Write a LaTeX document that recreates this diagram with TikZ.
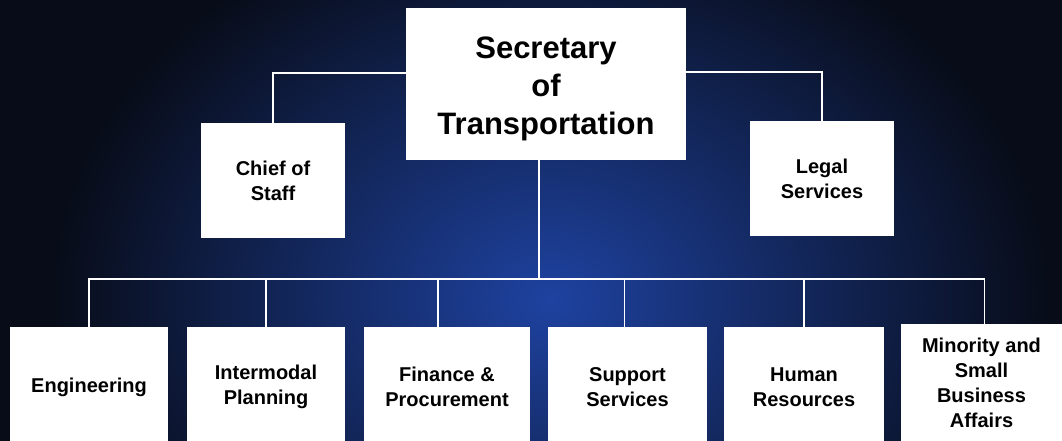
\documentclass[tikz,border=0pt]{standalone}
\usepackage{fontspec}
\setmainfont{Liberation Sans}
\definecolor{bgdark}{RGB}{8,12,24}
\definecolor{bgblue}{RGB}{30,66,160}
\begin{document}
\begin{tikzpicture}[x=1pt,y=-1pt,
  box/.style={fill=white, draw=none, align=center, inner sep=0pt,
    font=\bfseries\fontsize{20}{25}\selectfont},
  bigbox/.style={box, font=\bfseries\fontsize{31}{38}\selectfont},
  link/.style={draw=white, line width=1.8pt}]
\useasboundingbox (0,0) rectangle (1062,441);
\fill[bgdark] (0,0) rectangle (1062,441);
\begin{scope}
  \clip (0,0) rectangle (1062,441);
  \shade[inner color=bgblue, outer color=bgdark] (550,300) ellipse [x radius=500, y radius=400];
\end{scope}
% top level
\node[bigbox, minimum width=280, minimum height=152] (sec) at (546,84)
  {\raisebox{-5pt}[\height][\depth]{\begin{tabular}{@{}c@{}}Secretary\\of\\Transportation\end{tabular}}};
\node[box, minimum width=144, minimum height=115] (chief) at (273,180.5) {Chief of\\Staff};
\node[box, minimum width=144, minimum height=115] (legal) at (822,178.5) {Legal\\Services};
% bottom level
\node[box, minimum width=158, minimum height=120] (eng) at (89,387) {Engineering};
\node[box, minimum width=158, minimum height=120] (inter) at (266,387) {Intermodal\\Planning};
\node[box, minimum width=166, minimum height=120] (fin) at (447,387) {Finance \&\\Procurement};
\node[box, minimum width=159, minimum height=120] (sup) at (627.5,387) {Support\\Services};
\node[box, minimum width=160, minimum height=120] (hum) at (804,387) {Human\\Resources};
\node[box, minimum width=161, minimum height=117] (mino) at (981.5,382.5) {Minority and\\Small\\Business\\Affairs};
% connectors
\coordinate (busc) at (539,279);
\draw[link] ([yshift=11pt]sec.west) -| (chief.north);
\draw[link] ([yshift=12pt]sec.east) -| (legal.north);
\draw[link] (sec.south -| busc) -- (busc);
\draw[link] (eng.north) |- ([xshift=3pt]mino.north |- busc) -- ([xshift=3pt]mino.north);
\draw[link] (inter.north) -- (inter.north |- busc);
\draw[link] ([xshift=-9pt]fin.north) -- ([xshift=-9pt]fin.north |- busc);
\draw[link] ([xshift=-3pt]sup.north) -- ([xshift=-3pt]sup.north |- busc);
\draw[link] (hum.north) -- (hum.north |- busc);
\end{tikzpicture}
\end{document}
